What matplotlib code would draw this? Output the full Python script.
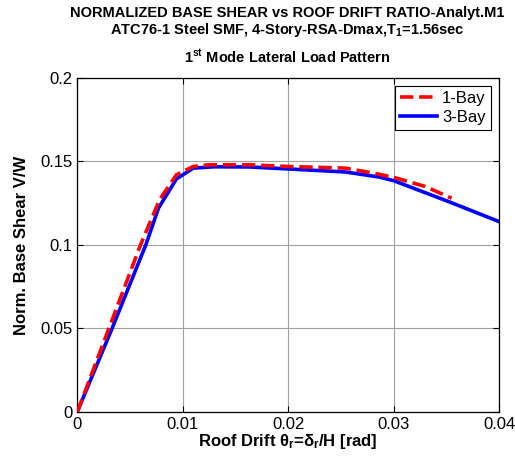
import numpy as np
import matplotlib.pyplot as plt

plt.rcParams['font.family'] = ['Liberation Sans', 'DejaVu Sans']
plt.rcParams['mathtext.fontset'] = 'custom'
plt.rcParams['mathtext.rm'] = 'Liberation Sans:bold'
plt.rcParams['mathtext.it'] = 'Liberation Sans:bold'
plt.rcParams['mathtext.bf'] = 'Liberation Sans:bold'

# 1-Bay (red dashed)
drift_1bay = [0, 0.0030, 0.0060, 0.0078, 0.0094, 0.0110, 0.0125, 0.0163, 0.0200,
              0.0254, 0.0281, 0.0300, 0.0330, 0.0355]
shear_1bay = [0, 0.050, 0.100, 0.127, 0.142, 0.147, 0.148, 0.148, 0.147,
              0.146, 0.143, 0.1405, 0.135, 0.128]
# 3-Bay (blue solid)
drift_3bay = [0, 0.0033, 0.0065, 0.0077, 0.0094, 0.0110, 0.0130, 0.0163, 0.0200,
              0.0254, 0.0286, 0.0300, 0.0352, 0.0400]
shear_3bay = [0, 0.050, 0.100, 0.122, 0.1395, 0.146, 0.1468, 0.1467, 0.1455,
              0.1437, 0.1407, 0.1385, 0.126, 0.114]

xticks = [0, 0.01, 0.02, 0.03, 0.04]
xticklabels = ['0', '0.01', '0.02', '0.03', '0.04']
yticks = [0, 0.05, 0.1, 0.15, 0.2]
yticklabels = ['0', '0.05', '0.1', '0.15', '0.2']

fig = plt.figure(figsize=(5.15, 4.57), dpi=100)
ax = fig.add_axes([0.150, 0.0985, 0.819, 0.731])

ax.plot(drift_1bay, shear_1bay, 'r--', lw=2.6, label='1-Bay', zorder=3)
ax.plot(drift_3bay, shear_3bay, 'b-', lw=2.6, label='3-Bay', zorder=2)

ax.set_xlim(0, 0.04)
ax.set_ylim(0, 0.2)
ax.set_xticks(xticks)
ax.set_xticklabels(xticklabels)
ax.set_yticks(yticks)
ax.set_yticklabels(yticklabels)
ax.tick_params(direction='in', labelsize=12, length=4, top=True, right=True)
ax.grid(True, color='#a0a0a0', lw=0.8)
for s in ax.spines.values():
    s.set_linewidth(0.9)

ax.set_xlabel(r'Roof Drift θ$_\mathregular{r}$=δ$_\mathregular{r}$/H [rad]',
              fontsize=12, fontweight='bold', labelpad=0)
ax.set_ylabel('Norm. Base Shear V/W', fontsize=12, fontweight='bold', labelpad=8)

leg = ax.legend(loc='upper right', fontsize=12, fancybox=False, edgecolor='black',
                framealpha=1, handlelength=2.2, handletextpad=0.3,
                borderaxespad=0.5, borderpad=0.3, labelspacing=0.2)
leg.get_frame().set_linewidth(0.8)

fig.text(0.558, 0.972, 'NORMALIZED BASE SHEAR vs ROOF DRIFT RATIO-Analyt.M1',
         ha='center', va='center', fontsize=10.5, fontweight='bold')
fig.text(0.558, 0.935, r'ATC76-1 Steel SMF, 4-Story-RSA-Dmax,T$_\mathregular{1}$=1.56sec',
         ha='center', va='center', fontsize=10.5, fontweight='bold')
fig.text(0.558, 0.875, r'1$^\mathregular{st}$ Mode Lateral Load Pattern',
         ha='center', va='center', fontsize=10.5, fontweight='bold')

fig.savefig('out.png', dpi=100)
